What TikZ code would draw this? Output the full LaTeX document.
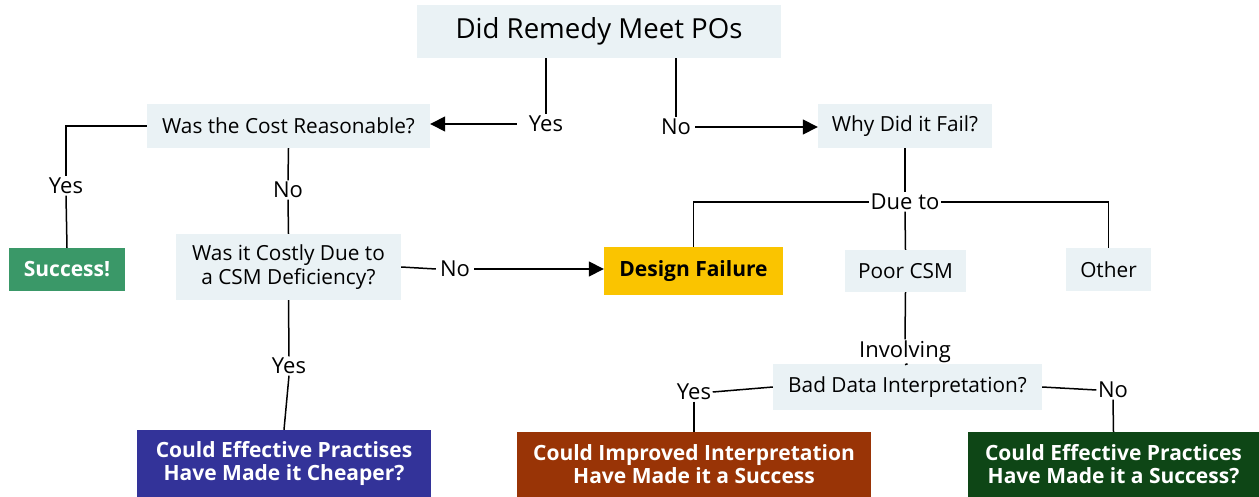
\documentclass[tikz,border=0pt]{standalone}
\usepackage{fontspec}
\setmainfont{Open Sans}
\usetikzlibrary{arrows.meta}
\definecolor{boxbg}{RGB}{234,242,245}
\definecolor{okgreen}{RGB}{58,152,104}
\definecolor{failgold}{RGB}{250,196,0}
\definecolor{practblue}{RGB}{51,51,153}
\definecolor{interpbrown}{RGB}{153,52,6}
\definecolor{darkgreen}{RGB}{14,70,22}
\tikzset{
  qbox/.style={fill=boxbg, inner sep=0pt, align=center, font=\fontsize{20.8}{24}\selectfont},
  outbox/.style={inner sep=0pt, align=center, text=white, font=\bfseries\fontsize{21}{23}\selectfont},
  lbl/.style={inner sep=1.5pt, font=\fontsize{22}{24}\selectfont},
  link/.style={line width=1.5pt, draw=black},
  arr/.style={link, -{Triangle[length=15pt,width=15pt]}}
}
\begin{document}
\begin{tikzpicture}[x=1pt,y=-1pt]
\useasboundingbox (0,0) rectangle (1259,497);
\fill[white] (0,0) rectangle (1259,497);

% question boxes
\node[qbox, minimum width=364, minimum height=53, font=\fontsize{27.6}{30}\selectfont] (top) at (599,31.5) {Did Remedy Meet POs};
\node[qbox, minimum width=283, minimum height=44] (cost) at (288.5,126) {Was the Cost Reasonable?};
\node[qbox, minimum width=174, minimum height=44] (why) at (905,126) {Why Did it Fail?};
\node[qbox, minimum width=225, minimum height=66] (costly) at (288.5,267) {Was it Costly Due to\\a CSM Deficiency?};
\node[qbox, minimum width=121, minimum height=42] (poor) at (905.5,271) {Poor CSM};
\node[qbox, minimum width=85, minimum height=43] (other) at (1108.5,269.5) {Other};
\node[qbox, minimum width=269, minimum height=46] (bad) at (907.5,387) {Bad Data Interpretation?};

% outcome boxes
\node[outbox, fill=okgreen, minimum width=116, minimum height=43] (success) at (67,269.5) {Success!};
\node[outbox, fill=failgold, text=black, minimum width=179, minimum height=48] (design) at (693.5,271) {Design Failure};
\node[outbox, fill=practblue, minimum width=294, minimum height=67] (cheaper) at (284,463.5) {Could Effective Practises\\Have Made it Cheaper?};
\node[outbox, fill=interpbrown, minimum width=354, minimum height=65] (improved) at (694,464.5) {Could Improved Interpretation\\Have Made it a Success};
\node[outbox, fill=darkgreen, minimum width=291, minimum height=65] (effective) at (1113.5,464.5) {Could Effective Practices\\Have Made it a Success?};

% branch labels
\node[lbl, inner xsep=12pt] (yesA) at (546,124) {Yes};
\node[lbl, inner xsep=4pt] (noA) at (676,127) {No};
\node[lbl] (yesB) at (66,186) {Yes};
\node[lbl] (noB) at (288,190) {No};
\node[lbl, inner xsep=4pt] (noC) at (455,269) {No};
\node[lbl] (yesC) at (289,366) {Yes};
\node[lbl] (dueto) at (905,202) {Due to};
\node[lbl] (involving) at (905,352) {Involving};
\node[lbl] (yesD) at (694,392) {Yes};
\node[lbl] (noD) at (1113,390) {No};

% connectors
\draw[link] (yesA.north |- top.south) -- (yesA.north);
\draw[arr] (yesA.west) -- (yesA.west -| cost.east);
\draw[link] (noA.north |- top.south) -- (noA.north);
\draw[arr] (noA.east) -- (noA.east -| why.west);

\draw[link] (cost.west) -| (yesB.north);
\draw[link] (yesB.south) -- (success.north);
\draw[link] (cost.south) -- (noB.north);
\draw[link] (noB.south) -- (costly.north);
\draw[link] (costly.east) -- (noC.west);
\draw[arr] (noC.east) -- (noC.east -| design.west);
\draw[link] (costly.south) -- (yesC.north);
\draw[link] (yesC.south) -- (cheaper.north);

\draw[link] (why.south) -- (dueto.north);
\draw[link] (dueto.west) -| (design.north);
\draw[link] (dueto.east) -| (other.north);
\draw[link] (dueto.south) -- (poor.north);
\draw[link] (poor.south) -- (involving.north);
\draw[link] (involving.south) -- (bad.north);
\draw[link] (bad.west) -- (yesD.east);
\draw[link] (yesD.south) -- (improved.north);
\draw[link] (bad.east) -- (noD.west);
\draw[link] (noD.south) -- (effective.north);
\end{tikzpicture}
\end{document}
